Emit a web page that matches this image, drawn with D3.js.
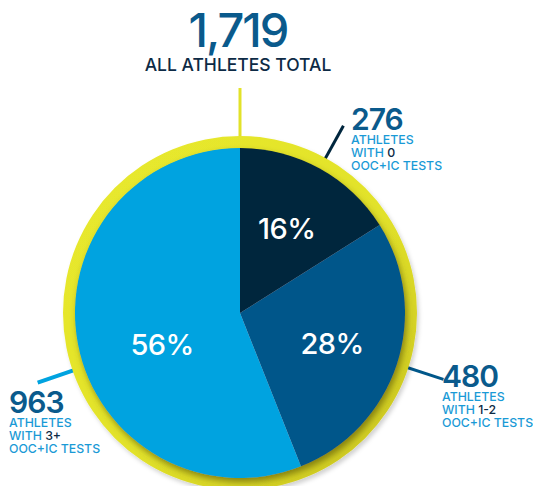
<!DOCTYPE html>
<html>
<head>
<meta charset="utf-8">
<script src="https://cdn.jsdelivr.net/npm/d3@7"></script>
<style>
  body { margin: 0; background: #fff; }
  svg { display: block; font-family: "Inter", "Lato", sans-serif; }
</style>
</head>
<body>
<svg id="chart" width="533" height="486"></svg>
<script>
// donnees du graphique
var categories = ["WITH 0", "WITH 1-2", "WITH 3+"];
var tags = ["0", "1-2", "3+"];
var counts = [276, 480, 963];
var percents = ["16%", "28%", "56%"];
var totalLabel = "1,719";
var totalText = "ALL ATHLETES TOTAL";
var colors = ["#00263e", "#00578a", "#00a3e0"];

var W = 533, H = 486;
var cx = 240, cy = 313, r = 165, ringOuter = 177;

var svg = d3.select("#chart");
var defs = svg.append("defs");

// degrade de l'anneau jaune
var grad = defs.append("linearGradient").attr("id", "ringGrad")
  .attr("x1", "0%").attr("y1", "0%").attr("x2", "100%").attr("y2", "100%");
grad.append("stop").attr("offset", "0%").attr("stop-color", "#e9ea2e");
grad.append("stop").attr("offset", "55%").attr("stop-color", "#e2e22a");
grad.append("stop").attr("offset", "100%").attr("stop-color", "#c7c11f");

var shadow = defs.append("filter").attr("id", "pieShadow")
  .attr("x", "-20%").attr("y", "-20%").attr("width", "140%").attr("height", "140%");
shadow.append("feDropShadow").attr("dx", 2).attr("dy", 4).attr("stdDeviation", 3)
  .attr("flood-color", "#4a4200").attr("flood-opacity", 0.55);

var ringShadow = defs.append("filter").attr("id", "ringShadow")
  .attr("x", "-20%").attr("y", "-20%").attr("width", "140%").attr("height", "140%");
ringShadow.append("feDropShadow").attr("dx", 2).attr("dy", 3).attr("stdDeviation", 2)
  .attr("flood-color", "#000").attr("flood-opacity", 0.18);

var g = svg.append("g").attr("transform", "translate(" + cx + "," + cy + ")");

var pie = d3.pie().sort(null).value(function (d) { return d; });
var arcs = pie(counts);
var arc = d3.arc().innerRadius(0).outerRadius(r);

function polar(angle, rad) {
  return [Math.sin(angle) * rad, -Math.cos(angle) * rad];
}

// trait vertical vers le total
g.append("line")
  .attr("x1", 0).attr("x2", 0)
  .attr("y1", -ringOuter + 4).attr("y2", -cy + 88)
  .attr("stroke", "#e2e22a").attr("stroke-width", 3);

// angles des traits de rappel (le dernier est decale dans l'original)
var leaderAngles = [arcs[0], arcs[1]].map(function (a) { return (a.startAngle + a.endAngle) / 2; });
leaderAngles.push(251 * Math.PI / 180);
var leaderWidths = [3, 3, 4];

leaderAngles.forEach(function (a, i) {
  var p1 = polar(a, r + 2), p2 = polar(a, 214);
  g.append("line")
    .attr("x1", p1[0]).attr("y1", p1[1])
    .attr("x2", p2[0]).attr("y2", p2[1])
    .attr("stroke", colors[i]).attr("stroke-width", leaderWidths[i]);
});

// anneau jaune
g.append("path")
  .attr("d", d3.arc().innerRadius(r - 4).outerRadius(ringOuter).startAngle(0).endAngle(2 * Math.PI)())
  .attr("fill", "url(#ringGrad)")
  .attr("filter", "url(#ringShadow)");

// camembert
var pieG = g.append("g").attr("filter", "url(#pieShadow)");
pieG.selectAll("path.slice")
  .data(arcs)
  .enter()
  .append("path")
  .attr("class", "slice")
  .attr("d", arc)
  .attr("fill", function (d, i) { return colors[i]; });

// pourcentages
var labelArc = d3.arc().innerRadius(0).outerRadius(194);
var pctPos = arcs.map(function (d, i) {
  if (i == 2) { return polar(248 * Math.PI / 180, 84); }
  return labelArc.centroid(d);
});
g.selectAll("text.pct")
  .data(percents)
  .enter()
  .append("text")
  .attr("class", "pct")
  .attr("x", function (d, i) { return pctPos[i][0]; })
  .attr("y", function (d, i) { return pctPos[i][1] + 11; })
  .attr("text-anchor", "middle")
  .attr("fill", "#fff")
  .attr("font-size", 29)
  .attr("font-weight", 500)
  .attr("letter-spacing", -0.5)
  .text(function (d) { return d; });

// total en haut
svg.append("text")
  .attr("x", 238).attr("y", 47)
  .attr("text-anchor", "middle")
  .attr("fill", "#0a5a8c")
  .attr("font-size", 47)
  .attr("font-weight", 500)
  .attr("letter-spacing", -2)
  .text(totalLabel);
svg.append("text")
  .attr("x", 238).attr("y", 71)
  .attr("text-anchor", "middle")
  .attr("fill", "#0d2a45")
  .attr("font-size", 17.5)
  .attr("font-weight", 500)
  .text(totalText);

// etiquettes des tranches
var blockPos = [[351, 130], [442, 387], [9, 413]];
blockPos.forEach(function (p, i) {
  var t = svg.append("g").attr("transform", "translate(" + p[0] + "," + p[1] + ")");
  t.append("text")
    .attr("fill", "#0a5a8c").attr("font-size", 30).attr("font-weight", 600)
    .attr("letter-spacing", -1)
    .text(counts[i]);
  var small = t.append("text")
    .attr("fill", "#1a9ad6").attr("font-size", 12.3).attr("font-weight", 500);
  small.append("tspan").attr("x", 0).attr("y", 14).text("ATHLETES");
  small.append("tspan").attr("x", 0).attr("y", 27).text("WITH\u00a0")
    .append("tspan").attr("fill", "#0d2a45").text(tags[i]);
  small.append("tspan").attr("x", 0).attr("y", 40).text("OOC+IC TESTS");
});
</script>
</body>
</html>
